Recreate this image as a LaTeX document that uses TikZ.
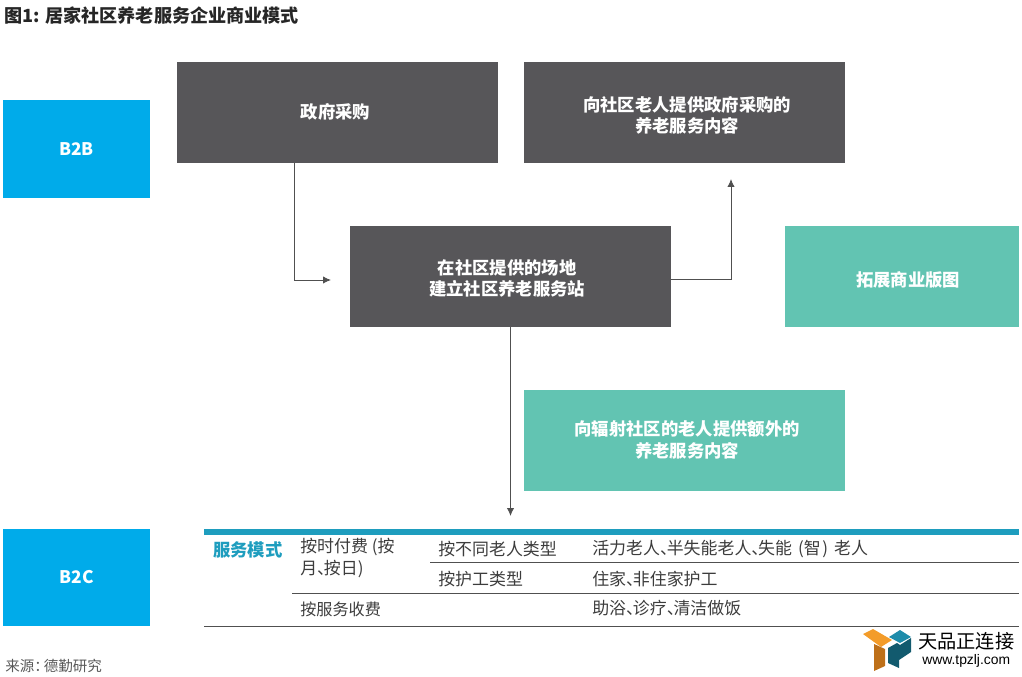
\documentclass[tikz,border=0pt]{standalone}
\usepackage{fontspec}
\setmainfont{Noto Sans CJK SC}
\setsansfont{Noto Sans CJK SC}
\newfontfamily\logofont{Liberation Sans}
\newcommand{\dun}{、\kern-0.6em}
\definecolor{dtblue}{RGB}{0,171,234}
\definecolor{dtgrey}{RGB}{87,86,89}
\definecolor{dtteal}{RGB}{98,196,178}
\definecolor{dtbar}{RGB}{30,157,190}
\definecolor{dtline}{RGB}{80,80,80}
\definecolor{dttext}{RGB}{60,60,60}
\definecolor{logoA}{RGB}{243,156,42}
\definecolor{logoB}{RGB}{190,112,25}
\definecolor{logoC}{RGB}{30,140,170}
\definecolor{logoD}{RGB}{18,90,110}
\usetikzlibrary{arrows.meta,positioning}

\begin{document}
\begin{tikzpicture}[x=0.75pt, y=-0.75pt, every node/.style={font=\fontsize{13}{16.2}\selectfont\bfseries},
  bx/.style={fill=dtgrey, minimum width=240.75pt, minimum height=75.75pt, inner sep=0pt},
  tag/.style={fill=dtblue, text=white, minimum width=110.25pt, minimum height=73pt, inner sep=0pt},
  gn/.style={fill=dtteal, minimum height=75.75pt, inner sep=0pt},
  lbl/.style={text=white, align=center, inner sep=0pt},
  cell/.style={anchor=west, inner sep=0pt, text=dttext, font=\fontsize{12.7}{16.5}\selectfont},
  arr/.style={-{Latex[length=6pt,width=5.5pt]}, draw=dtline, line width=0.7pt},
  rule/.style={draw=dtline, line width=0.7pt}]
\useasboundingbox (0,0) rectangle (1022,677);
% Title
\node[anchor=west, inner sep=0pt, font=\fontsize{13.6}{16}\selectfont\bfseries, text=black!85] (title) at (4,16) {图1:\hspace{0.3em}居家社区养老服务企业商业模式};
% Tags
\node[tag] (btob) at (76.5,149) {B2B};
\node[tag] (btoc) at (76.5,577.5) {B2C};
% Dark boxes
\node[bx, label={[lbl, xshift=-1.5pt, yshift=0.5pt]center:政府采购}] (purchase) at (337.5,112.5) {};
\node[bx, label={[lbl, xshift=2pt, yshift=-2pt]center:向社区老人提供政府采购的\\养老服务内容}] (content) at (684.5,112.5) {};
\node[bx, label={[lbl, xshift=-2.5pt, yshift=-1.5pt]center:在社区提供的场地\\建立社区养老服务站}] (station) at (510.5,276.5) {};
% Teal boxes
\node[gn, minimum width=175.5pt, label={[lbl, xshift=4.5pt, yshift=-2.5pt]center:拓展商业版图}] (expand) at (902,276.5) {};
\node[gn, minimum width=240.75pt, label={[lbl, xshift=2pt, yshift=0.5pt]center:向辐射社区的老人提供额外的\\养老服务内容}] (extra) at (684.5,440.5) {};
% Arrows
\coordinate (stationin) at (331,280);
\coordinate (contentin) at (731,179);
\coordinate (tablein) at (510.5,516);
\draw[arr] (purchase.south -| 294,0) |- (stationin);
\draw[arr] (station.east |- 0,279) -| (contentin);
\draw[arr] (station.south) -- (tablein);
% Table
\fill[dtbar] (204,529) rectangle (1019,535);
\coordinate (ruleA) at (430,562); \coordinate (ruleAe) at (1019,562);
\coordinate (ruleB) at (292,593); \coordinate (ruleBe) at (1019,593);
\coordinate (ruleC) at (204,626); \coordinate (ruleCe) at (1019,626);
\draw[rule] (ruleA) -- (ruleAe);
\draw[rule] (ruleB) -- (ruleBe);
\draw[rule] (ruleC) -- (ruleCe);
\node[cell, text=dtbar, font=\fontsize{13}{16}\selectfont\bfseries] (mode) at (213,549.5) {服务模式};
\node[cell, align=left, anchor=north west] (time) at (300,538) {按时付费 (按\\月\dun 按日)};
\node[cell] (elder) at (438,549.5) {按不同老人类型};
\node[cell] (elderv) at (592,549.5) {活力老人\dun 半失能老人\dun 失能 \kern0.13em(智\kern0.1em) \kern0.13em老人};
\node[cell] (care) at (438,579.5) {按护工类型};
\node[cell] (carev) at (592,579.5) {住家\dun 非住家护工};
\node[cell, font=\fontsize{12.1}{16.5}\selectfont] (item) at (300,609.5) {按服务收费};
\node[cell] (itemv) at (592,608.5) {助浴\dun 诊疗\dun 清洁做饭};
% Source
\node[cell, text=black!65, font=\fontsize{10.9}{13}\selectfont] (source) at (5,665.5) {来源：\kern-0.35em德勤研究};
% Logo
\fill[logoA] (863,634) -- (873,629) -- (892,640) -- (881,647) -- cycle;
\fill[logoB] (874,644) -- (885,649) -- (885,666) -- (874,671) -- cycle;
\fill[logoC] (889,637) -- (900,630) -- (911,637) -- (900,643) -- cycle;
\fill[logoD] (888,648) -- (897,643) -- (900,645) -- (911,638) -- (911,652) -- (899,660) -- (899,668) -- (888,663) -- cycle;
\node[anchor=west, inner sep=0pt, font=\fontsize{14.4}{16}\selectfont, text=black] (logotext) at (918,641) {天品正连接};
\node[anchor=west, inner sep=0pt, font=\logofont\fontsize{10.4}{12}\selectfont, text=black] (logourl) at (922,661) {www.tpzlj.com};
\end{tikzpicture}
\end{document}
